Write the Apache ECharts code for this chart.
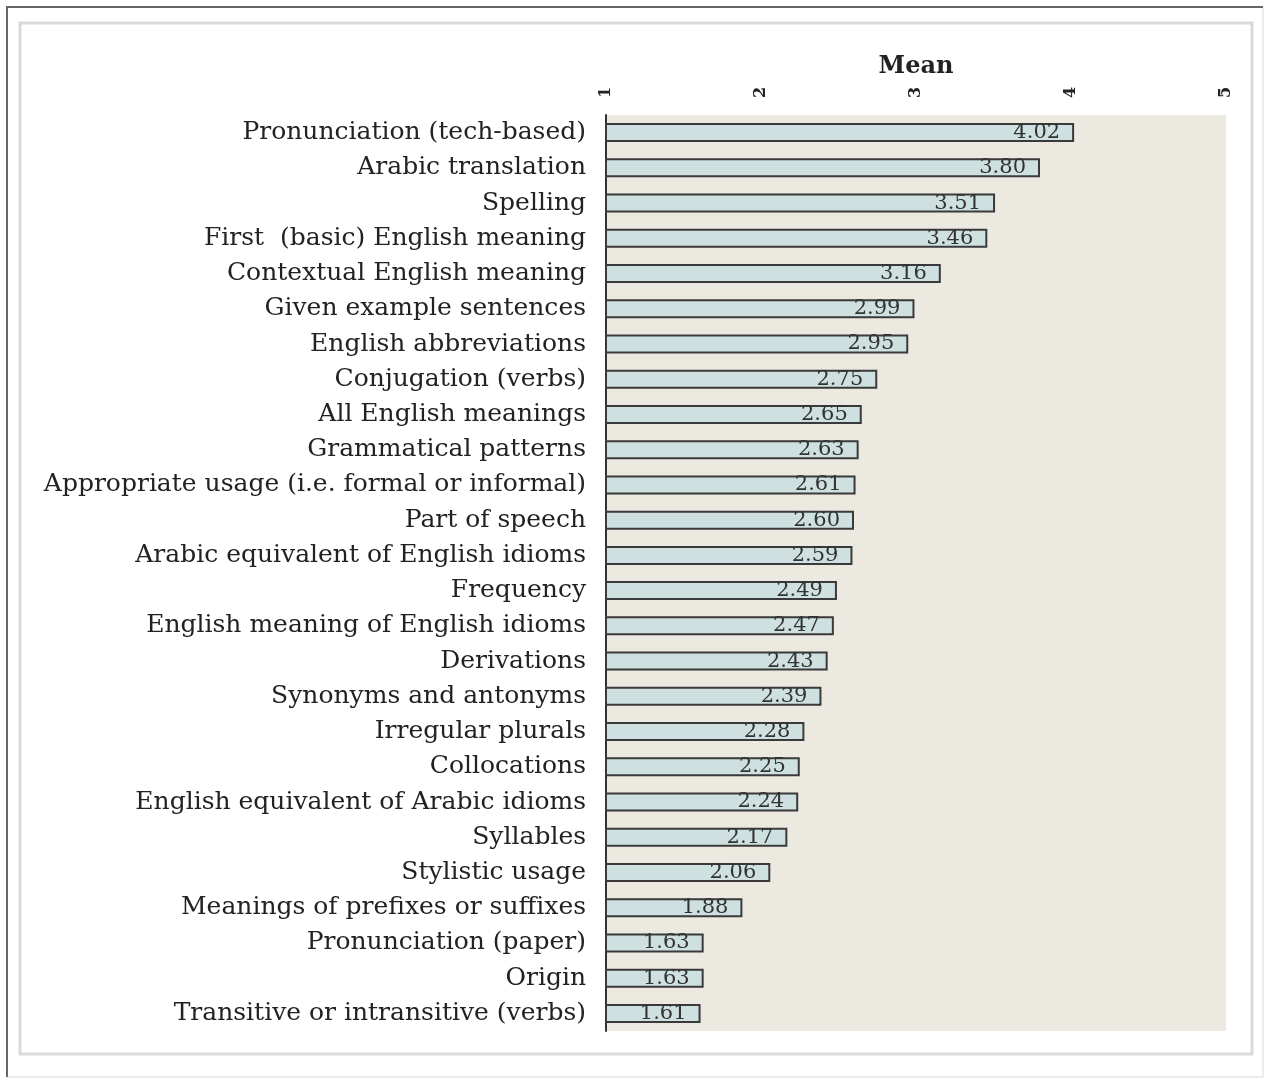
<!DOCTYPE html>
<html>
<head>
<meta charset="utf-8">
<script src="https://cdn.jsdelivr.net/npm/echarts@6/dist/echarts.min.js"></script>
<style>
  html, body { margin: 0; padding: 0; background: #fff; }
  .chart { width: 1266px; height: 1079px; }
</style>
</head>
<body>
<div class="chart"></div>
<script>
const categories = [
  'Pronunciation (tech-based)',
  'Arabic translation',
  'Spelling',
  'First  (basic) English meaning',
  'Contextual English meaning',
  'Given example sentences',
  'English abbreviations',
  'Conjugation (verbs)',
  'All English meanings',
  'Grammatical patterns',
  'Appropriate usage (i.e. formal or informal)',
  'Part of speech',
  'Arabic equivalent of English idioms',
  'Frequency',
  'English meaning of English idioms',
  'Derivations',
  'Synonyms and antonyms',
  'Irregular plurals',
  'Collocations',
  'English equivalent of Arabic idioms',
  'Syllables',
  'Stylistic usage',
  'Meanings of prefixes or suffixes',
  'Pronunciation (paper)',
  'Origin',
  'Transitive or intransitive (verbs)'
]
const means = [
  4.02, 3.80, 3.51, 3.46, 3.16, 2.99, 2.95, 2.75, 2.65, 2.63,
  2.61, 2.60, 2.59, 2.49, 2.47, 2.43, 2.39, 2.28, 2.25, 2.24,
  2.17, 2.06, 1.88, 1.63, 1.63, 1.61
]
const ticks = [1, 2, 3, 4, 5]

const serif = '"DejaVu Serif", "Liberation Serif", serif'
const chartDom = echarts.init(document.querySelector('.chart'))

const option = {
  animation: false,
  backgroundColor: '#fff',
  textStyle: { fontFamily: serif },
  graphic: [
    {
      type: 'rect',
      shape: { x: 7, y: 7, width: 1256, height: 1070 },
      style: { fill: 'none', stroke: '#d8d8d8', lineWidth: 1 },
      silent: true
    },
    {
      type: 'polyline',
      shape: { points: [[7, 1077], [7, 7], [1263, 7]] },
      style: { fill: 'none', stroke: '#666', lineWidth: 2 },
      silent: true
    },
    {
      type: 'rect',
      shape: { x: 20, y: 23, width: 1232, height: 1031 },
      style: { fill: 'none', stroke: '#dadada', lineWidth: 3 },
      silent: true
    }
  ],
  grid: {
    left: 606,
    right: 40,
    top: 115,
    bottom: 48,
    show: true,
    backgroundColor: '#ece9e1',
    borderWidth: 0
  },
  xAxis: {
    type: 'value',
    position: 'top',
    min: ticks[0],
    max: ticks[ticks.length - 1],
    interval: 1,
    name: 'Mean',
    nameLocation: 'middle',
    nameGap: 36,
    nameTextStyle: {
      fontFamily: serif,
      fontWeight: 'bold',
      fontSize: 24,
      color: '#222'
    },
    axisLine: { show: false },
    axisTick: { show: false },
    splitLine: { show: false },
    axisLabel: {
      rotate: -90,
      margin: 17,
      fontFamily: serif,
      fontWeight: 'bold',
      fontSize: 16,
      color: '#222'
    }
  },
  yAxis: {
    type: 'category',
    data: categories,
    inverse: true,
    axisLine: { show: true, lineStyle: { color: '#333', width: 2 } },
    axisTick: { show: false },
    axisLabel: {
      margin: 20,
      fontFamily: serif,
      fontSize: 25,
      color: '#222'
    }
  },
  series: [
    {
      name: 'Mean',
      type: 'bar',
      data: means,
      barWidth: 19,
      itemStyle: {
        color: '#cfe0e1',
        borderColor: '#3a3a3a',
        borderWidth: 2
      },
      label: {
        show: true,
        position: 'insideRight',
        distance: 14,
        formatter: p => p.value.toFixed(2),
        fontFamily: serif,
        fontSize: 21,
        color: '#333'
      }
    }
  ]
}

chartDom.setOption(option)

window.onresize = () => {
  chartDom.resize()
}
</script>
</body>
</html>
